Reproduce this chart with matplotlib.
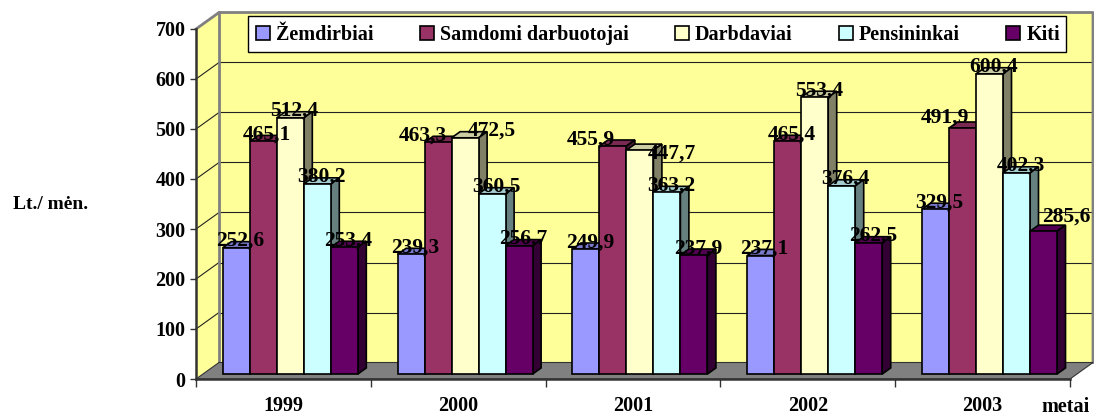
import matplotlib
matplotlib.use("Agg")
import matplotlib.pyplot as plt
from matplotlib.patches import Polygon, Rectangle, Patch
from matplotlib.colors import to_rgb

plt.rcParams['font.family'] = ['Liberation Serif', 'DejaVu Serif']
plt.rcParams['font.weight'] = 'bold'

# duomenys (Lt./mėn.)
metai = ['1999', '2000', '2001', '2002', '2003']
grupes = ['Žemdirbiai', 'Samdomi darbuotojai', 'Darbdaviai', 'Pensininkai', 'Kiti']
zemdirbiai = [252.6, 239.3, 249.9, 237.1, 329.5]
samdomi = [465.1, 463.3, 455.9, 465.4, 491.9]
darbdaviai = [512.4, 472.5, 447.7, 553.4, 600.4]
pensininkai = [380.2, 360.5, 363.2, 376.4, 402.3]
kiti = [253.4, 256.7, 237.9, 262.5, 285.6]
serijos = [zemdirbiai, samdomi, darbdaviai, pensininkai, kiti]

spalvos = ['#9999FF', '#993366', '#FFFFCC', '#CCFFFF', '#660066']

# etikeciu pataisos pikseliais (dx, dy), kaip Excel'yje
pataisos = {(1, 1): (-19, 0), (1, 2): (23, 0), (2, 1): (-26, 0),
            (2, 2): (28, -10), (4, 1): (-22, 4), (4, 4): (19, 8)}

W, H = 1094, 415
fig = plt.figure(figsize=(W / 100, H / 100), dpi=100)
x0, y0, x1, y1 = 196, 379, 1070, 29
ax = fig.add_axes([x0 / W, 1 - y0 / H, (x1 - x0) / W, (y0 - y1) / H])
ax.set_xlim(0, 5)
ax.set_ylim(0, 700)
ax.patch.set_visible(False)

px = 5 / (x1 - x0)   # x vienetai pikseliui
py = 700 / (y0 - y1)  # y vienetai pikseliui
dx, dy = 23 * px, 16.5 * py  # gylis

# sienos ir grindys
ax.add_patch(Polygon([(dx, dy), (5 + dx, dy), (5 + dx, 700 + dy), (dx, 700 + dy)],
                     closed=True, fc='#FFFF99', ec='none', zorder=0.5, clip_on=False))
ax.add_patch(Polygon([(0, 0), (dx, dy), (dx, 700 + dy), (0, 700)],
                     closed=True, fc='#FFFF99', ec='none', zorder=0.5, clip_on=False))
for v in range(100, 700, 100):
    ax.plot([dx, 5 + dx], [v + dy, v + dy], color='#222222', lw=0.8, zorder=1, clip_on=False)
    ax.plot([0, dx], [v, v + dy], color='#222222', lw=0.8, zorder=1, clip_on=False)
ax.plot([0, dx, 5 + dx, 5 + dx], [700, 700 + dy, 700 + dy, dy], color='#808080', lw=2,
        zorder=1.2, clip_on=False)
ax.plot([dx, dx], [dy, 700 + dy], color='#808080', lw=2, zorder=1.2, clip_on=False)
ax.add_patch(Polygon([(0, 0), (5, 0), (5 + dx, dy), (dx, dy)],
                     closed=True, fc='#808080', ec='#333333', lw=0.8, zorder=1.5, clip_on=False))

# stulpeliai
bw = 27 * px
f0, f1 = 0.3, 0.37
ox, oy = f0 * dx, f0 * dy
bx, by = f1 * dx, f1 * dy
pradzia = (1 - 5 * bw) / 2
k = 0
for i in range(len(metai)):
    for j, ser in enumerate(serijos):
        v = ser[i]
        left = i + pradzia + j * bw + ox
        c = to_rgb(spalvos[j])
        top = tuple(ch * 0.8 for ch in c)
        side = tuple(ch * 0.5 for ch in c)
        z = 10 + 2 * k
        ax.add_patch(Polygon([(left, oy + v), (left + bw, oy + v), (left + bw + bx, oy + v + by),
                              (left + bx, oy + v + by)], closed=True, fc=top, ec='black',
                             lw=1.2, zorder=z, clip_on=False))
        ax.add_patch(Polygon([(left + bw, oy), (left + bw + bx, oy + by), (left + bw + bx, oy + v + by),
                              (left + bw, oy + v)], closed=True, fc=side, ec='black',
                             lw=1.2, zorder=z, clip_on=False))
        ax.bar(left, v, width=bw, bottom=oy, align='edge', color=spalvos[j], edgecolor='black',
               linewidth=1.2, zorder=z + 1, clip_on=False)
        ndx, ndy = pataisos.get((i, j), (0, 0))
        ax.text(left + bw / 2 + (4 + ndx) * px, oy + v + (2 + ndy) * py,
                f'{v:.1f}'.replace('.', ','), ha='center', va='baseline',
                fontsize=15.5, fontweight='bold', zorder=200)
        k += 1

# asys
for s in ['top', 'right']:
    ax.spines[s].set_visible(False)
for s in ['left', 'bottom']:
    ax.spines[s].set_color('#333333')
    ax.spines[s].set_linewidth(1.8)
ax.set_yticks(range(0, 701, 100))
ax.tick_params(axis='y', direction='out', length=4.5, width=1, color='#333333',
               labelsize=14.5, pad=3)
ax.set_xticks(range(6))
ax.set_xticklabels([])
ax.tick_params(axis='x', which='major', direction='out', length=6, width=1, color='#333333')
ax.set_xticks([i + 0.5 for i in range(5)], minor=True)
ax.set_xticklabels(metai, minor=True, fontsize=14.5, fontweight='bold')
ax.tick_params(axis='x', which='minor', length=0, pad=12)
for t in ax.get_yticklabels():
    t.set_fontweight('bold')

fig.text(51 / W, 1 - 204 / H, 'Lt./ mėn.', ha='center', va='center', fontsize=14, fontweight='bold')
fig.text(1090 / W, 1 - 412 / H, 'metai', ha='right', va='baseline', fontsize=14.5, fontweight='bold')

# legenda
ax.add_patch(Rectangle((248 / W, 1 - 51.7 / H), 818 / W, 36 / H, transform=fig.transFigure,
                       fc='white', ec='black', lw=1, zorder=5, clip_on=False))
rankenos = [Patch(facecolor=c, edgecolor='black', linewidth=1.2) for c in spalvos]
leg = ax.legend(rankenos, grupes, ncol=5, loc='center', bbox_to_anchor=(657.8 / W, 1 - 35 / H),
                bbox_transform=fig.transFigure, frameon=False, handlelength=0.7, handleheight=0.7,
                handletextpad=0.3, columnspacing=2.3, borderpad=0,
                prop={'size': 14.5, 'weight': 'bold'})
leg.set_zorder(6)

fig.savefig('out.png', dpi=100)
